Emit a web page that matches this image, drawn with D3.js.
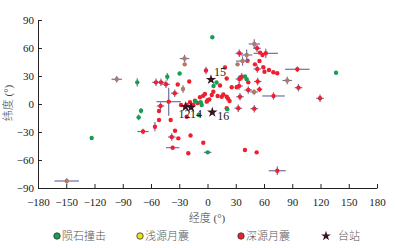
<!DOCTYPE html>
<html><head><meta charset="utf-8">
<script src="https://cdn.jsdelivr.net/npm/d3@7"></script>
<style>
body{margin:0;background:#fff;}
text{font-family:"Liberation Serif","Noto Sans CJK SC",serif;}
</style></head>
<body><svg id="c" width="395" height="248"></svg>
<script>
// ---- data ----
const xTicks = [-180,-150,-120,-90,-60,-30,0,30,60,90,120,150,180];
const yTicks = [-90,-60,-30,0,30,60,90];

// meteoroid impacts (green)
const impactLon    = [5.1,-74.6,-42.7,-29.6,-70.6,-73.1,-123,136.5,9.6,6.4,39.8,41.6,21,-7.2,-6.2,-9,0.2,-12.7];
const impactLat    = [71.5,23.2,29.2,32.7,-7.2,-14.3,-36.4,33.5,23,19.3,29.5,26.5,-5.7,1.8,-1.1,-11.8,-51.8,2.7];
const impactErrLon = [0,0,0,0,2,2,0,0,0,0,0,0,0,0,0,0,4,0];
const impactErrLat = [0,4.5,4,0,3,3,0,0,0,0,0,0,0,0,0,0,0,0];

// shallow moonquakes
const shallowLon    = [-149.5,-96.4,-24.4,-24.2,49.7,41.6,37.2,31.9,84.7,49.4,-26];
const shallowLat    = [-82.5,26.5,48.7,42.5,64.3,52.5,46,42.5,25.2,12.9,16];
const shallowErrLon = [13,5.5,5,0,6,6,7,0,5,4,2];
const shallowErrLat = [3,3.5,4,0,5,6,5,0,4,3,4];

// deep moonquakes (red)
const deepLon = [-54.7,-49.4,-44.1,-31.6,-19.4,-34.8,-41.2,-49.9,-51.5,-51.5,-39.1,-55.8,-68.5,-34.5,-38,-31,-37,-20.4,-18,-22.1,-4.5,39.8,52.2,74.1,
  -1.6,18.6,20.4,33.8,52.6,61.9,55.8,58.4,42.5,50.4,55.2,52.9,59.3,60.5,65.3,69.9,74.1,95.4,36.3,33.8,43.3,53.3,33.5,55.2,43.3,96.6,70.1,119.5,34.5,32.7,49.7,20.4,
  6.2,25.7,31,-2.7,4.5,10.8,15.1,16.8,20.4,21.8,23.4,-8,-13.3,-0.8,1.9,-18.6,-22.1,-15.1,-28.1,13.3,-4.5,0,-10.5];
const deepLat = [23.2,23.2,21.1,20.9,24.1,11.5,2.5,-2.1,-7.5,-17.1,-17.1,-24.3,-29.5,-28.6,-35.4,-36.8,-46.8,-52.8,-33.7,-13.6,-41.5,-49.3,-51.8,-71.5,
  35.9,39.1,27.3,54.3,59.7,54.3,55,52.5,46.4,42.5,46,37.5,39.3,34.6,36.4,34,32.9,37.2,29.2,26.8,23.2,24.1,19.3,15.7,15,17.5,8.6,6.1,7.8,-4.6,-5,-4.6,
  13.2,17.9,17.9,10.7,9.6,8.6,7.8,10.2,7.8,5.6,3.2,7.2,3.5,2.5,4.8,1.8,-1.1,-1.1,-1.1,19.8,8.8,4,1];
const deepErrLon = [4,4,4,0,0,4,13,4,0,0,0,0,6,0,4,0,7,0,0,0,0,0,0,9,
  0,0,0,4,4,13,0,0,0,0,0,4,0,0,0,0,0,13,4,4,0,4,4,3,4,4,12,4,4,4,4,0,
  0,0,0,0,0,0,0,0,0,0,0,0,0,0,0,0,0,0,0,0,0,0,0];
const deepErrLat = [4,4,4,0,0,4,15,4,0,0,0,5,3,0,4,0,0,0,0,0,0,0,0,4.5,
  4,0,0,4,4,5,0,0,0,0,0,4,0,0,0,0,0,3,4,4,0,4,4,3,4,4,4,4,4,4,4,0,
  0,0,0,0,0,0,0,0,0,0,0,0,0,0,0,0,0,0,0,0,0,0,0];

// stations
const stationName = ["12","14","15","16"];
const stationLon  = [-23.4,-17.5,3.7,5.1];
const stationLat  = [-3.0,-3.6,26.1,-8.9];

const legendNames = ["陨石撞击","浅源月震","深源月震","台站"];

// ---- drawing ----
const svg = d3.select("#c");
const x = d3.scaleLinear().domain([-180,180]).range([38,377]);
const y = d3.scaleLinear().domain([-90,90]).range([188,20]);

const colImpact = "#14a052", colShallow = "#b27a5e", colDeep = "#ee2030", colErr = "#6f6fa6", colStar = "#3a1226";

const axX = svg.append("g").attr("transform","translate(0,188)")
  .call(d3.axisBottom(x).tickValues(xTicks).tickSize(-4).tickSizeOuter(0).tickPadding(10));
const axY = svg.append("g").attr("transform","translate(38,0)")
  .call(d3.axisLeft(y).tickValues(yTicks).tickSize(-4).tickSizeOuter(0).tickPadding(4));
[axX,axY].forEach(a=>{
  a.selectAll("path,line").attr("stroke","#222").attr("stroke-width",1);
  a.selectAll("text").attr("font-size",11).attr("fill","#222")
   .style("font-family","'Liberation Serif',serif");
});

svg.append("text").attr("x",207).attr("y",222).attr("text-anchor","middle")
  .attr("font-size",11).attr("fill","#444").attr("font-weight",300).text("经度 (°)");
svg.append("text").attr("transform","translate(12,103) rotate(-90)").attr("text-anchor","middle")
  .attr("font-size",11).attr("fill","#444").attr("font-weight",300).text("纬度 (°)");

function series(lon,lat,elon,elat,color){
  const d = lon.map((v,i)=>({lon:v,lat:lat[i],el:elon[i],ea:elat[i]}));
  const g = svg.append("g");
  d.filter(p=>p.el>0).forEach(p=>{
    g.append("line").attr("x1",x(p.lon-p.el)).attr("x2",x(p.lon+p.el))
     .attr("y1",y(p.lat)).attr("y2",y(p.lat)).attr("stroke",colErr).attr("stroke-width",1.2);
  });
  d.filter(p=>p.ea>0).forEach(p=>{
    g.append("line").attr("y1",y(p.lat-p.ea)).attr("y2",y(p.lat+p.ea))
     .attr("x1",x(p.lon)).attr("x2",x(p.lon)).attr("stroke",colErr).attr("stroke-width",1.2);
  });
  g.selectAll("circle").data(d).join("circle")
   .attr("cx",p=>x(p.lon)).attr("cy",p=>y(p.lat)).attr("r",2.2).attr("fill",color);
}
series(deepLon,deepLat,deepErrLon,deepErrLat,colDeep);
series(impactLon,impactLat,impactErrLon,impactErrLat,colImpact);
series(shallowLon,shallowLat,shallowErrLon,shallowErrLat,colShallow);

const star = d3.symbol().type(d3.symbolStar).size(34);
stationLon.forEach((v,i)=>{
  svg.append("path").attr("d",star).attr("fill",colStar)
    .attr("transform",`translate(${x(v)},${y(stationLat[i])})`);
});
const lblOff = [[-7,11],[-1,11],[3,-4],[5,8]];
stationName.forEach((n,i)=>{
  svg.append("text").attr("x",x(stationLon[i])+lblOff[i][0]).attr("y",y(stationLat[i])+lblOff[i][1])
    .attr("font-size",12).attr("fill","#222").style("font-family","'Liberation Serif',serif").text(n);
});

// legend
const legX = [57,140,241,326];
const legFill = [colImpact,"#f2e01e",colDeep,colStar];
legendNames.forEach((n,i)=>{
  if(i<3){
    svg.append("circle").attr("cx",legX[i]).attr("cy",236).attr("r",3.2)
      .attr("fill",legFill[i]).attr("stroke","#333").attr("stroke-width",0.8);
  } else {
    svg.append("path").attr("d",d3.symbol().type(d3.symbolStar).size(30))
      .attr("fill",colStar).attr("transform",`translate(${legX[i]},236)`);
  }
  svg.append("text").attr("x",legX[i]+(i<3?5:12)).attr("y",240).attr("font-size",11)
    .attr("fill","#555").attr("font-weight",300).text(n);
});
</script></body></html>
